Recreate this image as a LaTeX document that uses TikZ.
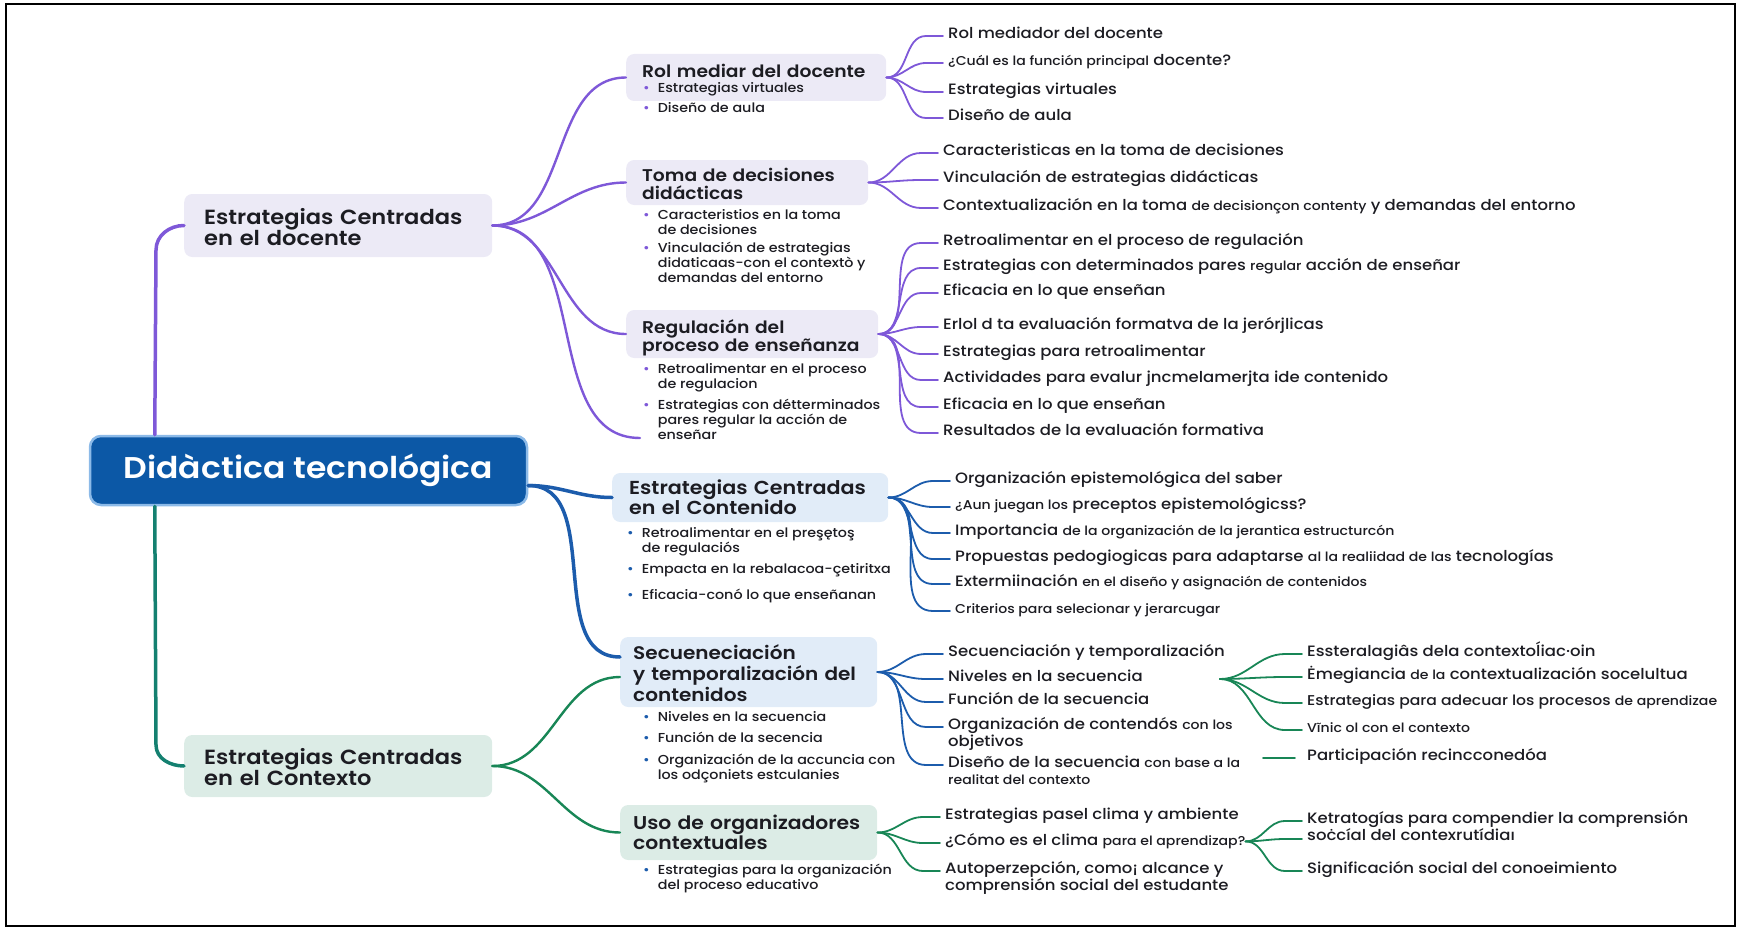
\documentclass[tikz,border=0pt]{standalone}
\usepackage{fontspec}
\setmainfont{Poppins}[FakeStretch=1.1, UprightFont=* Medium, BoldFont=* SemiBold]

\definecolor{ink}{RGB}{28,28,34}
\definecolor{mpurple}{RGB}{126,88,216}
\definecolor{mblue}{RGB}{28,92,172}
\definecolor{mgreen}{RGB}{24,134,86}
\definecolor{mteal}{RGB}{20,128,112}
\definecolor{pfill}{RGB}{236,234,246}
\definecolor{bfill}{RGB}{225,236,248}
\definecolor{gfill}{RGB}{220,236,230}
\definecolor{rootfill}{RGB}{12,88,166}
\definecolor{rootedge}{RGB}{140,186,232}

\newcommand{\smt}[1]{{\fontsize{12.8}{17}\selectfont #1}}
\newcommand{\twol}[1]{\begin{tabular}[t]{@{}l@{}}#1\end{tabular}}
\newcommand{\bitem}[2]{\textcolor{#1}{\textbullet}\hspace{8pt}\begin{tabular}[t]{@{}l@{}}#2\end{tabular}}

\tikzset{
  rootbox/.style={fill=rootfill, draw=rootedge, line width=2.5pt, rounded corners=11pt,
    text=white, font=\fontsize{30}{32}\selectfont\bfseries,
    minimum width=437pt, minimum height=69pt, inner sep=0pt},
  topicbox/.style={anchor=base west, rounded corners=8pt, inner ysep=0pt, align=left, text=ink},
  leaf/.style={anchor=mid west, inner sep=0pt, text=ink, font=\fontsize{15}{17}\selectfont},
  bul/.style={anchor=mid west, inner sep=0pt, text=ink, font=\fontsize{13}{15}\selectfont},
  trunk/.style={line width=3.5pt},
  limb/.style={line width=2.4pt},
  twig/.style={line width=1.8pt}
}

\begin{document}
\begin{tikzpicture}[x=1pt, y=-1pt, line cap=round]
\useasboundingbox (0,0) rectangle (1739,931);
\draw[line width=2pt] (6,4) rectangle (1735,926);

% centre and first level
\node[rootbox] (root) at (308.5,470.5) {Didàctica tecnológica};
\node[topicbox, fill=pfill, font=\fontsize{20.5}{21}\selectfont\bfseries, inner xsep=20pt,
  text width=268pt, text height=30pt, text depth=33pt] (docente) at (184,224) {Estrategias Centradas\\en el docente};
\node[topicbox, fill=gfill, font=\fontsize{20.5}{21}\selectfont\bfseries, inner xsep=20pt,
  text width=268pt, text height=29pt, text depth=33pt] (contexto) at (184,764) {Estrategias Centradas\\en el Contexto};

% second level
\node[topicbox, fill=pfill, font=\fontsize{17}{18}\selectfont\bfseries, inner xsep=16pt,
  text width=228pt, text height=24pt, text depth=23pt] (rol) at (626,78) {Rol mediar del docente};
\node[topicbox, fill=pfill, font=\fontsize{17}{18}\selectfont\bfseries, inner xsep=16pt,
  text width=210pt, text height=21pt, text depth=24pt] (toma) at (626,181) {Toma de decisiones\\didácticas};
\node[topicbox, fill=pfill, font=\fontsize{17}{18}\selectfont\bfseries, inner xsep=16pt,
  text width=220pt, text height=23pt, text depth=25pt] (reg) at (626,333) {Regulación del\\proceso de enseñanza};
\node[topicbox, fill=bfill, font=\fontsize{18.8}{20}\selectfont\bfseries, inner xsep=17pt,
  text width=242pt, text height=21.5pt, text depth=27.5pt] (cont) at (612,494.5) {Estrategias Centradas\\en el Contenido};
\node[topicbox, fill=bfill, font=\fontsize{18.2}{21}\selectfont\bfseries, inner xsep=13pt,
  text width=231pt, text height=22pt, text depth=48pt] (sec) at (620,659) {Secueneciación\\y temporalización del\\contenidos};
\node[topicbox, fill=gfill, font=\fontsize{18.5}{20}\selectfont\bfseries, inner xsep=13pt,
  text width=231pt, text height=24.5pt, text depth=30.5pt] (uso) at (620,829.5) {Uso de organizadores\\contextuales};

% bullets under the boxes
\node[bul] (rb1) at (643,90) {\bitem{mpurple}{Estrategias virtuales}};
\node[bul] (rb2) at (643,110) {\bitem{mpurple}{Diseño de aula}};
\node[bul] (tb1) at (643,217) {\bitem{mpurple}{Caracteristios en la toma\\de decisiones}};
\node[bul] (tb2) at (643,250) {\bitem{mpurple}{Vinculación de estrategias\\didaticaas-con el contextò y\\demandas del entorno}};
\node[bul] (gb1) at (643,371) {\bitem{mpurple}{Retroalimentar en el proceso\\de regulacion}};
\node[bul] (gb2) at (643,407) {\bitem{mpurple}{Estrategias con détterminados\\pares regular la acción de\\enseñar}};
\node[bul] (cb1) at (627,535) {\bitem{mblue}{Retroalimentar en el preşętoş\\de regulaciós}};
\node[bul] (cb2) at (627,571) {\bitem{mblue}{Empacta en la rebalacoa-çetiritxa}};
\node[bul] (cb3) at (627,597) {\bitem{mblue}{Eficacia-conó lo que enseñanan}};
\node[bul] (sb1) at (643,719) {\bitem{mblue}{Niveles en la secuencia}};
\node[bul] (sb2) at (643,740) {\bitem{mblue}{Función de la secencia}};
\node[bul] (sb3) at (643,762) {\bitem{mblue}{Organización de la accuncia con\\los odçoniets estculanies}};
\node[bul] (ub1) at (643,872) {\bitem{mblue}{Estrategias para la organización\\del proceso educativo}};

% leaves
\node[leaf] (a1) at (948,36) {Rol mediador del docente};
\node[leaf] (a2) at (948,63) {\smt{¿Cuál es la función principal} docente?};
\node[leaf] (a3) at (948,92) {Estrategias virtuales};
\node[leaf] (a4) at (948,118) {Diseño de aula};

\node[leaf] (b1) at (943,153) {Caracteristicas en la toma de decisiones};
\node[leaf] (b2) at (943,180) {Vinculación de estrategias didácticas};
\node[leaf] (b3) at (943,208) {Contextualización en la toma \smt{de decisionçon contenty} y demandas del entorno};

\node[leaf] (c1) at (943,243) {Retroalimentar en el proceso de regulación};
\node[leaf] (c2) at (943,268) {Estrategias con determinados pares \smt{regular} acción de enseñar};
\node[leaf] (c3) at (943,293) {Eficacia en lo que enseñan};
\node[leaf] (c4) at (943,327) {Erlol d ta evaluación formatva de la jerórjlicas};
\node[leaf] (c5) at (943,354) {Estrategias para retroalimentar};
\node[leaf] (c6) at (943,380) {Actividades para evalur jncmelamerjta ide contenido};
\node[leaf] (c7) at (943,407) {Eficacia en lo que enseñan};
\node[leaf] (c8) at (943,433) {Resultados de la evaluación formativa};

\node[leaf] (d1) at (955,481) {Organización epistemológica del saber};
\node[leaf] (d2) at (955,507) {\smt{¿Aun juegan los} preceptos epistemológicss?};
\node[leaf] (d3) at (955,533) {Importancia \smt{de la organización de la jerantica estructurcón}};
\node[leaf] (d4) at (955,559) {Propuestas pedogiogicas para adaptarse \smt{al la realiidad de las} tecnologías};
\node[leaf] (d5) at (955,584) {Extermiinación \smt{en el diseño y asignación de contenidos}};
\node[leaf] (d6) at (955,611) {\smt{Criterios para selecionar y jerarcugar}};

\node[leaf] (e1) at (948,654) {Secuenciación y temporalización};
\node[leaf] (e2) at (948,679) {Niveles en la secuencia};
\node[leaf] (e3) at (948,702) {Función de la secuencia};
\node[leaf] (e4) at (948,727) {\twol{Organización de contendós \smt{con los}\\objetivos}};
\node[leaf] (e5) at (948,765) {\twol{Diseño de la secuencia \smt{con base a la}\\\smt{realitat del contexto}}};

\node[leaf] (f1) at (945,817) {Estrategias pasel clima y ambiente};
\node[leaf] (f2) at (945,843) {¿Cómo es el clima \smt{para el aprendizap?}};
\node[leaf] (f3) at (945,871) {\twol{Autoperzepción, como¡ alcance y\\comprensión social del estudante}};

\coordinate (g0) at (1220,679);
\node[leaf] (g1) at (1307,654) {Essteralagiâs dela contextoĺiac·oin};
\node[leaf] (g2) at (1307,677) {Ėmegiancia \smt{de la} contextualización socelultua};
\node[leaf, font=\fontsize{14.2}{17}\selectfont] (g3) at (1307,703) {Estrategias para adecuar los procesos \smt{de aprendizae}};
\node[leaf] (g4) at (1307,730) {\smt{Vĩnic ol con el contexto}};
\coordinate (p0) at (1263,758);
\node[leaf] (g5) at (1307,758) {Participación recincconedóa};

\node[leaf] (h1) at (1307,821) {\twol{Ketratogías para compendier la comprensión\\soċcíal del contexrutídiaı}};
\node[leaf] (h2) at (1307,871) {Significación social del conoeimiento};

% trunks from the centre
\draw[trunk, mpurple] ([xshift=66pt]root.north west) -- (156,250) to[out=90,in=180] (docente.west);
\draw[trunk, mteal] ([xshift=66pt]root.south west) -- (156,745) to[out=-90,in=180] (contexto.west);
\draw[trunk, mblue] ([yshift=-15pt]root.east) to[out=0,in=180] (cont.west);
\draw[trunk, mblue] ([yshift=-15pt]root.east) to[out=0,in=180] ([yshift=15pt]sec.west);

% limbs
\coordinate (regend) at (640,438);
\foreach \t in {rol,toma,reg,regend}
  \draw[limb, mpurple] (docente.east) to[out=0,in=180] (\t.west);
\draw[limb, mgreen] (contexto.east) to[out=0,in=180] ([yshift=-5pt]sec.west);
\draw[limb, mgreen] (contexto.east) to[out=0,in=180] (uso.west);

% twigs
\foreach \n in {a1,a2,a3,a4}
  \draw[twig, mpurple] (rol.east) to[out=0,in=180] ([xshift=-22pt]\n.mid west) -- ([xshift=-5pt]\n.mid west);
\foreach \n in {b1,b2,b3}
  \draw[twig, mpurple] (toma.east) to[out=0,in=180] ([xshift=-22pt]\n.mid west) -- ([xshift=-5pt]\n.mid west);
\foreach \n in {c1,c2,c3,c4,c5,c6,c7,c8}
  \draw[twig, mpurple] (reg.east) to[out=0,in=180] ([xshift=-22pt]\n.mid west) -- ([xshift=-5pt]\n.mid west);
\foreach \n in {d1,d2,d3,d4,d5,d6}
  \draw[twig, mblue] (cont.east) to[out=0,in=180] ([xshift=-22pt]\n.mid west) -- ([xshift=-5pt]\n.mid west);
\foreach \n in {e1,e2,e3,e4,e5}
  \draw[twig, mblue] (sec.east) to[out=0,in=180] ([xshift=-22pt]\n.mid west) -- ([xshift=-5pt]\n.mid west);
\foreach \n in {f1,f2,f3}
  \draw[twig, mgreen] (uso.east) to[out=0,in=180] ([xshift=-22pt]\n.mid west) -- ([xshift=-5pt]\n.mid west);
\foreach \n in {g1,g2,g3,g4}
  \draw[twig, mgreen] (g0) to[out=0,in=180] ([xshift=-22pt]\n.mid west) -- ([xshift=-5pt]\n.mid west);
\draw[twig, mgreen] (p0) -- ([xshift=-12pt]g5.mid west);
\draw[twig, mgreen] (f2.east) to[out=0,in=180] ([xshift=-22pt]h1.mid west) -- ([xshift=-5pt]h1.mid west);
\draw[twig, mgreen] (f2.east) to[out=0,in=180] ([xshift=-22pt,yshift=-18pt]h1.mid west) -- ([xshift=-5pt,yshift=-18pt]h1.mid west);
\draw[twig, mgreen] (f2.east) to[out=0,in=180] ([xshift=-22pt]h2.mid west) -- ([xshift=-5pt]h2.mid west);
\end{tikzpicture}
\end{document}
